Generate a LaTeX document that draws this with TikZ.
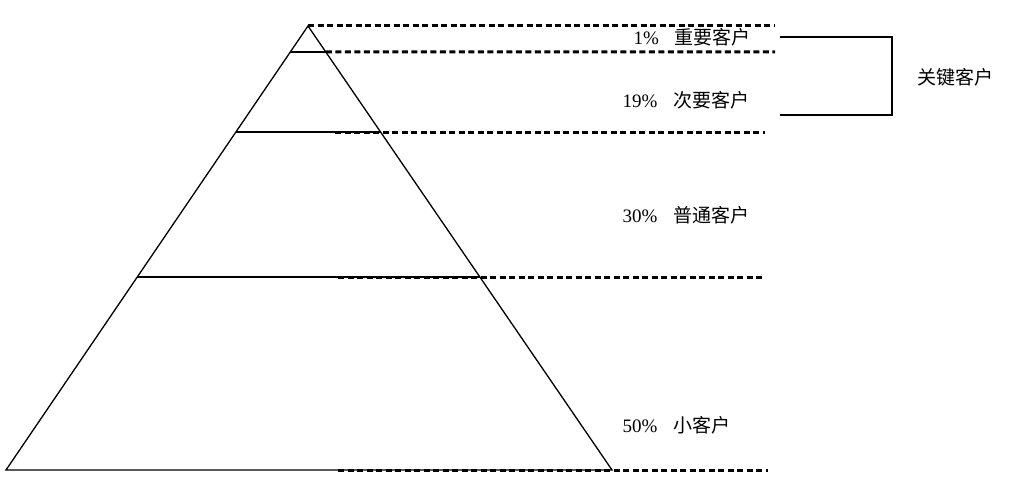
\documentclass[tikz,border=0pt]{standalone}
\usepackage{fontspec}
\setmainfont{Liberation Serif}
\newfontfamily\cjk{Noto Sans CJK SC}
\usetikzlibrary{calc}
\usetikzlibrary{positioning}
\tikzset{
    cut/.style={
           draw=black,
           line width=3pt,
           dash pattern=on 6pt off 3.5pt,
           },
    tier/.style={
           anchor=west,
           inner sep=0pt,
           font=\fontsize{19}{22}\selectfont,
           },
}

\begin{document}
\begin{tikzpicture}[x=1pt,y=-1pt,line width=1.3pt]
      \useasboundingbox (0,0) rectangle (1015,495);
      % pyramid
      \coordinate (top) at (308,26);
      \coordinate (bl)  at (6,470);
      \coordinate (br)  at (612,470);
      \coordinate (l1a) at ($(top)!{26/444}!(bl)$);
      \coordinate (l1b) at ($(top)!{26/444}!(br)$);
      \coordinate (l2a) at ($(top)!{106/444}!(bl)$);
      \coordinate (l2b) at ($(top)!{106/444}!(br)$);
      \coordinate (l3a) at ($(top)!{251/444}!(bl)$);
      \coordinate (l3b) at ($(top)!{251/444}!(br)$);
      \draw (top) -- (bl) -- (br) -- cycle;
      \draw (l1a) -- (l1b);
      \draw (l2a) -- (l2b);
      \draw (l3a) -- (l3b);
      % dashed cuts
      \coordinate (c0) at (775,26);
      \coordinate (c1) at (775,52);
      \coordinate (c2) at (765,132);
      \coordinate (c3) at (765,277);
      \coordinate (c4) at (768,470);
      \draw[cut] (top) -- (c0);
      \draw[cut] (l1b) -- (c1);
      \draw[cut] (335,132) -- (c2);
      \draw[cut] (338,277) -- (c3);
      \draw[cut] (338,470) -- (c4);
      % labels
      \node[tier] (t1) at (633,37)  {1\%\hspace{16pt}{\cjk 重要客户}};
      \node[tier] (t2) at (622,100) {19\%\hspace{16pt}{\cjk 次要客户}};
      \node[tier] (t3) at (622,215) {30\%\hspace{16pt}{\cjk 普通客户}};
      \node[tier] (t4) at (622,425) {50\%\hspace{16pt}{\cjk 小客户}};
      % bracket
      \coordinate (b1) at (780,37);
      \coordinate (b2) at (780,115);
      \node[tier] (key) at (917,77) {\cjk 关键客户};
      \draw (b1) -| (892,115) -- (b2);
\end{tikzpicture}
\end{document}
